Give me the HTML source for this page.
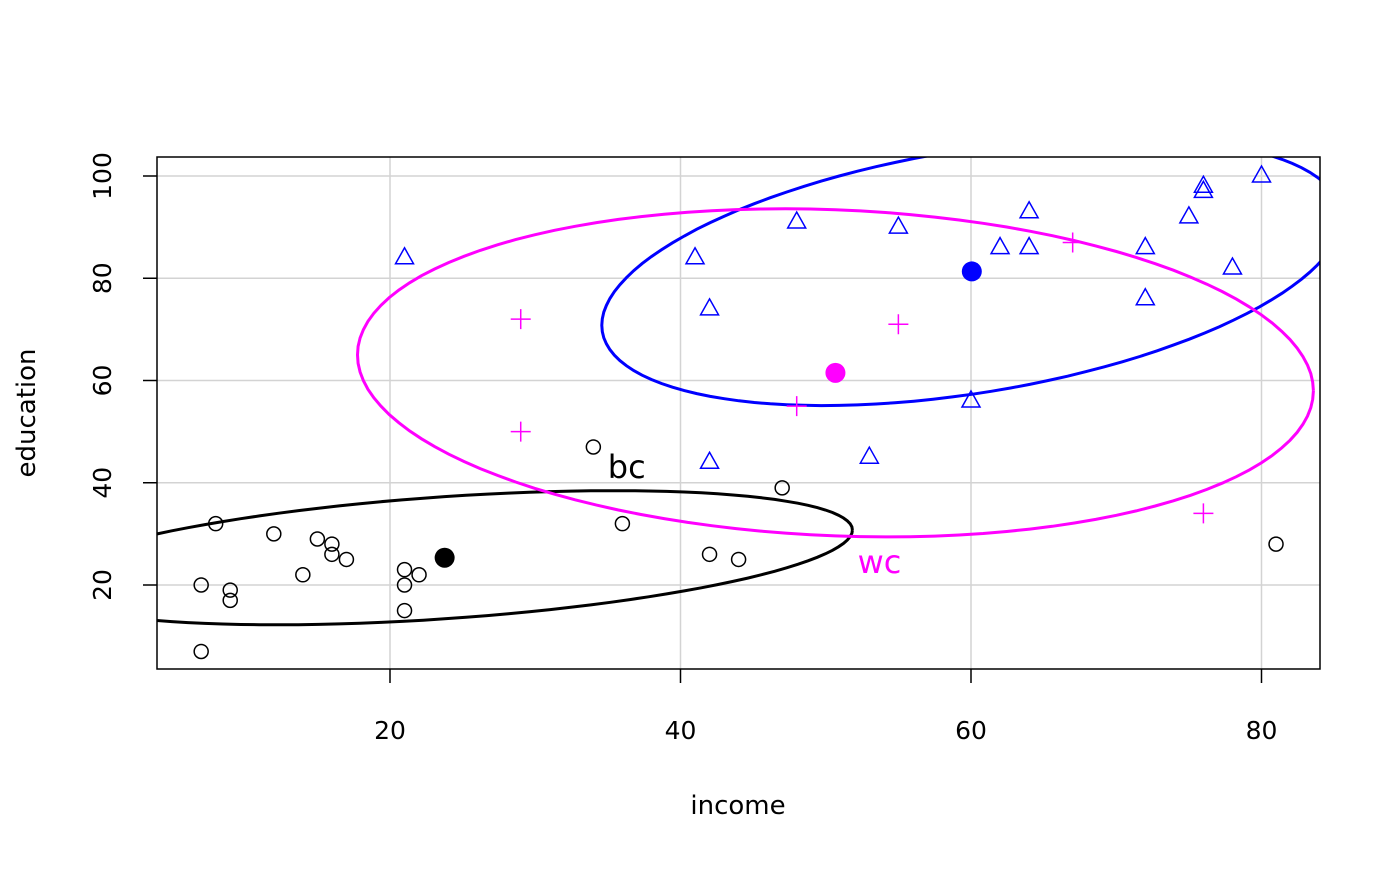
<!DOCTYPE html>
<html><head><meta charset="utf-8"><style>
body{margin:0;background:#fff}
svg text{font-family:"DejaVu Sans","Liberation Sans",sans-serif}
</style></head><body>
<svg id="chart" width="1400" height="866" xmlns="http://www.w3.org/2000/svg">
<defs><clipPath id="clip"><rect x="157" y="157" width="1163" height="512"/></clipPath></defs>
<g id="grid"></g>
<g id="ells" clip-path="url(#clip)"></g>
<g id="pts"></g>
<rect x="157" y="157" width="1163" height="512" fill="none" stroke="#000" stroke-width="1.5"/>
<g id="axes"></g>
<text x="738" y="814" font-size="26" text-anchor="middle">income</text>
<text x="35" y="413" font-size="26" text-anchor="middle" transform="rotate(-90 35 413)">education</text>
</svg>
<script>
const bcIncome=[21,47,81,36,22,44,15,7,42,9,21,21,16,16,9,14,12,17,7,34,8];
const bcEducation=[23,39,28,32,22,25,29,7,26,19,15,20,26,28,17,22,30,25,20,47,32];
const wcIncome=[67,76,29,48,55,29];
const wcEducation=[87,34,72,55,71,50];
const profIncome=[62,72,75,55,64,21,64,80,72,42,76,76,41,48,53,60,42,78];
const profEducation=[86,76,92,90,86,84,93,100,86,74,98,97,84,91,45,56,44,82];
const xTicks=[20,40,60,80];
const yTicks=[20,40,60,80,100];
const radii={bc:1.55,wc:1.70,prof:1.56};
const X=v=>99.5+v*14.525, Y=v=>687.25-v*5.1125;
const NS="http://www.w3.org/2000/svg";
function mk(tag,attrs,parent){const e=document.createElementNS(NS,tag);for(const k in attrs)e.setAttribute(k,attrs[k]);parent.appendChild(e);return e;}
const grid=document.getElementById('grid'),axes=document.getElementById('axes'),ells=document.getElementById('ells'),pts=document.getElementById('pts');
xTicks.forEach(t=>{
 const l=mk('line',{x1:X(t),x2:X(t),y1:157,y2:669,stroke:'#d3d3d3','stroke-width':1.5},grid);
 
 
 const k=mk('line',{x1:X(t),x2:X(t),y1:669,y2:683,stroke:'#000','stroke-width':1.5},axes);
 
 
 const tx=mk('text',{x:X(t),y:739,'font-size':25,'text-anchor':'middle'},axes);tx.textContent=t;
 
 
});
yTicks.forEach(t=>{
 const l=mk('line',{x1:157,x2:1320,y1:Y(t),y2:Y(t),stroke:'#d3d3d3','stroke-width':1.5},grid);
 
 
 const k=mk('line',{x1:143,x2:157,y1:Y(t),y2:Y(t),stroke:'#000','stroke-width':1.5},axes);
 
 
 const tx=mk('text',{x:111,y:Y(t),'font-size':25,'text-anchor':'middle',transform:`rotate(-90 111 ${Y(t)})`},axes);tx.textContent=t;
 
 
});
const groups=[
 {id:'bc',xs:bcIncome,ys:bcEducation,col:'#000',sym:'circle',lab:[36.3,40.9]},
 {id:'prof',xs:profIncome,ys:profEducation,col:'#0000ff',sym:'tri',lab:null},
 {id:'wc',xs:wcIncome,ys:wcEducation,col:'#ff00ff',sym:'plus',lab:[53.7,22.3]}
];
groups.forEach(g=>{
 const n=g.xs.length,mx=g.xs.reduce((a,b)=>a+b)/n,my=g.ys.reduce((a,b)=>a+b)/n;
 let sxx=0,syy=0,sxy=0;
 for(let i=0;i<n;i++){const dx=g.xs[i]-mx,dy=g.ys[i]-my;sxx+=dx*dx;syy+=dy*dy;sxy+=dx*dy;}
 sxx/=n-1;syy/=n-1;sxy/=n-1;
 const l11=Math.sqrt(sxx),l21=sxy/l11,l22=Math.sqrt(syy-l21*l21),r=radii[g.id];
 let d='';
 for(let k=0;k<=120;k++){const t=2*Math.PI*k/120,c=Math.cos(t),s=Math.sin(t);
  const ex=mx+r*l11*c,ey=my+r*(l21*c+l22*s);d+=(k?'L':'M')+X(ex).toFixed(1)+','+Y(ey).toFixed(1);}
 const p=mk('path',{d:d,fill:'none',stroke:g.col,'stroke-width':3},ells);
 
 
 for(let i=0;i<n;i++){
  const px=X(g.xs[i]),py=Y(g.ys[i]);let e;
  if(g.sym==='circle')e=mk('circle',{cx:px,cy:py,r:7,fill:'none',stroke:g.col,'stroke-width':1.5},pts);
  else if(g.sym==='tri')e=mk('path',{d:`M${px},${py-10}L${px+9},${py+6}L${px-9},${py+6}Z`,fill:'none',stroke:g.col,'stroke-width':1.5},pts);
  else e=mk('path',{d:`M${px-10},${py}H${px+10}M${px},${py-10}V${py+10}`,fill:'none',stroke:g.col,'stroke-width':1.5},pts);
  
  
 }
 const m=mk('circle',{cx:X(mx),cy:Y(my),r:10,fill:g.col},pts);
 
 
 if(g.lab){const t=mk('text',{x:X(g.lab[0]),y:Y(g.lab[1]),'font-size':32,'text-anchor':'middle',fill:g.col},pts);t.textContent=g.id;
  
  }
});
</script>
</body></html>
